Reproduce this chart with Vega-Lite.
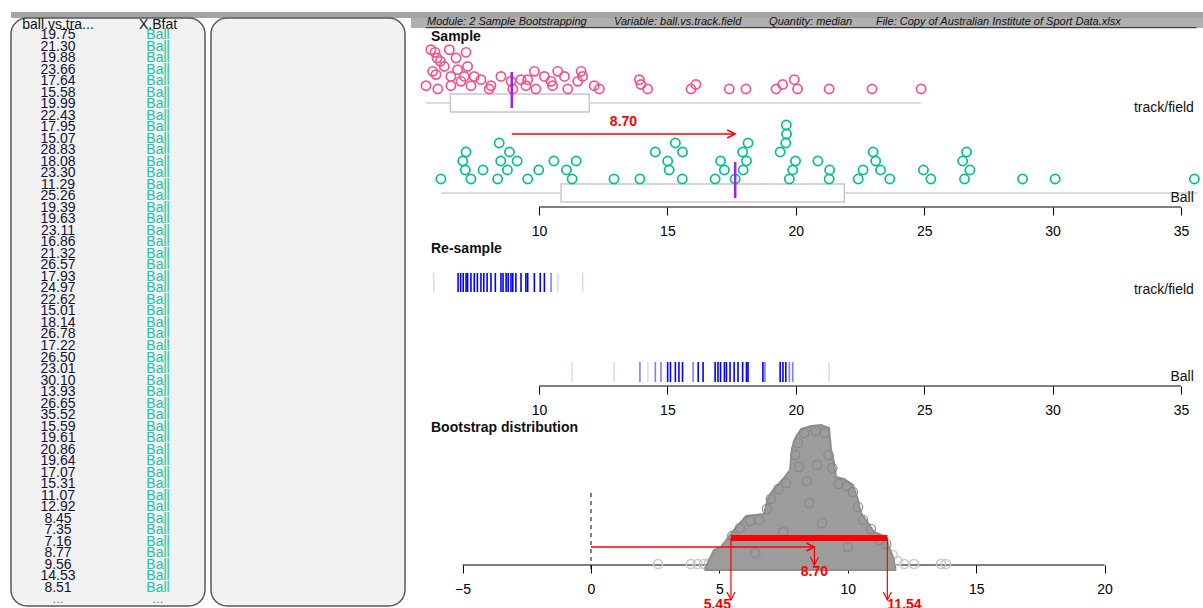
{
 "$schema": "https://vega.github.io/schema/vega-lite/v6.json",
 "padding": {"top": 9, "left": 10, "right": 0, "bottom": 0},
 "background": "white",
 "spacing": 0,
 "bounds": "flush",
 "config": {
  "view": {"stroke": null},
  "font": "Liberation Sans",
  "axis": {"labelFont": "Liberation Sans", "labelFontSize": 14, "labelColor": "black", "tickColor": "black", "grid": false, "domain": false, "tickSize": 8, "tickWidth": 1, "labelPadding": 9, "labelFlush": false, "labelOverlap": false}
 },
 "datasets": {
  "table": [
   {"r":0,"v":19.75,"g":"Ball"},{"r":1,"v":21.30,"g":"Ball"},{"r":2,"v":19.88,"g":"Ball"},{"r":3,"v":23.66,"g":"Ball"},{"r":4,"v":17.64,"g":"Ball"},
   {"r":5,"v":15.58,"g":"Ball"},{"r":6,"v":19.99,"g":"Ball"},{"r":7,"v":22.43,"g":"Ball"},{"r":8,"v":17.95,"g":"Ball"},{"r":9,"v":15.07,"g":"Ball"},
   {"r":10,"v":28.83,"g":"Ball"},{"r":11,"v":18.08,"g":"Ball"},{"r":12,"v":23.30,"g":"Ball"},{"r":13,"v":11.29,"g":"Ball"},{"r":14,"v":25.26,"g":"Ball"},
   {"r":15,"v":19.39,"g":"Ball"},{"r":16,"v":19.63,"g":"Ball"},{"r":17,"v":23.11,"g":"Ball"},{"r":18,"v":16.86,"g":"Ball"},{"r":19,"v":21.32,"g":"Ball"},
   {"r":20,"v":26.57,"g":"Ball"},{"r":21,"v":17.93,"g":"Ball"},{"r":22,"v":24.97,"g":"Ball"},{"r":23,"v":22.62,"g":"Ball"},{"r":24,"v":15.01,"g":"Ball"},
   {"r":25,"v":18.14,"g":"Ball"},{"r":26,"v":26.78,"g":"Ball"},{"r":27,"v":17.22,"g":"Ball"},{"r":28,"v":26.50,"g":"Ball"},{"r":29,"v":23.01,"g":"Ball"},
   {"r":30,"v":30.10,"g":"Ball"},{"r":31,"v":13.93,"g":"Ball"},{"r":32,"v":26.65,"g":"Ball"},{"r":33,"v":35.52,"g":"Ball"},{"r":34,"v":15.59,"g":"Ball"},
   {"r":35,"v":19.61,"g":"Ball"},{"r":36,"v":20.86,"g":"Ball"},{"r":37,"v":19.64,"g":"Ball"},{"r":38,"v":17.07,"g":"Ball"},{"r":39,"v":15.31,"g":"Ball"},
   {"r":40,"v":11.07,"g":"Ball"},{"r":41,"v":12.92,"g":"Ball"},{"r":42,"v":8.45,"g":"Ball"},{"r":43,"v":7.35,"g":"Ball"},{"r":44,"v":7.16,"g":"Ball"},
   {"r":45,"v":8.77,"g":"Ball"},{"r":46,"v":9.56,"g":"Ball"},{"r":47,"v":14.53,"g":"Ball"},{"r":48,"v":8.51,"g":"Ball"}
  ],
  "balldots": [
   {"v":6.18,"lev":0},{"v":7.03,"lev":2},{"v":7.13,"lev":1},{"v":7.16,"lev":3},{"v":7.35,"lev":0},{"v":7.82,"lev":1},{"v":8.45,"lev":4},{"v":8.85,"lev":3},
   {"v":8.51,"lev":2},{"v":9.15,"lev":2},{"v":8.77,"lev":1},{"v":8.39,"lev":0},{"v":9.56,"lev":0},{"v":9.99,"lev":1},{"v":10.58,"lev":2},{"v":11.07,"lev":1},
   {"v":11.45,"lev":2},{"v":11.29,"lev":0},{"v":12.92,"lev":0},{"v":13.93,"lev":0},{"v":15.31,"lev":4},{"v":15.59,"lev":3},{"v":14.53,"lev":3},{"v":15.01,"lev":2},
   {"v":15.07,"lev":1},{"v":15.58,"lev":0},{"v":17.07,"lev":2},{"v":17.22,"lev":1},{"v":16.86,"lev":0},{"v":17.64,"lev":0},{"v":18.14,"lev":4},{"v":17.93,"lev":3},
   {"v":18.08,"lev":2},{"v":17.95,"lev":1},{"v":19.63,"lev":6},{"v":19.64,"lev":5},{"v":19.61,"lev":4},{"v":19.39,"lev":3},{"v":19.99,"lev":2},{"v":19.88,"lev":1},
   {"v":19.75,"lev":0},{"v":20.86,"lev":2},{"v":21.32,"lev":1},{"v":21.30,"lev":0},{"v":23.01,"lev":3},{"v":23.11,"lev":2},{"v":22.62,"lev":1},{"v":23.30,"lev":1},
   {"v":22.43,"lev":0},{"v":23.66,"lev":0},{"v":24.97,"lev":1},{"v":25.26,"lev":0},{"v":26.65,"lev":3},{"v":26.50,"lev":2},{"v":26.78,"lev":1},{"v":26.57,"lev":0},
   {"v":28.83,"lev":0},{"v":30.10,"lev":0},{"v":35.52,"lev":0}
  ],
  "tfdots": [
   {"v":5.79,"lev":4.37},{"v":5.95,"lev":4.07},{"v":6.51,"lev":4.37},{"v":7.16,"lev":4.07},{"v":6.03,"lev":3.44},{"v":6.16,"lev":3.07},{"v":6.77,"lev":3.44},
   {"v":6.31,"lev":2.5},{"v":6.83,"lev":2.15},{"v":7.22,"lev":2.5},{"v":5.86,"lev":1.96},{"v":5.99,"lev":1.6},{"v":6.57,"lev":1.4},{"v":7.09,"lev":1.4},
   {"v":7.48,"lev":1.4},{"v":5.60,"lev":0.37},{"v":6.06,"lev":0},{"v":6.57,"lev":0.37},{"v":6.96,"lev":0.85},{"v":7.35,"lev":0.37},{"v":7.74,"lev":1.04},
   {"v":8.13,"lev":0.37},{"v":8.06,"lev":0},{"v":8.52,"lev":1.4},{"v":8.91,"lev":0.85},{"v":8.98,"lev":0},{"v":9.30,"lev":1.04},{"v":9.56,"lev":1.04},
   {"v":9.49,"lev":0.37},{"v":9.88,"lev":0},{"v":9.82,"lev":1.96},{"v":10.21,"lev":1.4},{"v":10.47,"lev":0.85},{"v":10.53,"lev":0.37},{"v":10.73,"lev":1.96},
   {"v":10.99,"lev":1.4},{"v":11.12,"lev":0},{"v":11.64,"lev":1.96},{"v":11.70,"lev":1.4},{"v":11.51,"lev":0.85},{"v":12.15,"lev":0.37},{"v":12.35,"lev":0},
   {"v":13.91,"lev":1.04},{"v":13.97,"lev":0.5},{"v":14.23,"lev":0},{"v":15.92,"lev":0},{"v":16.11,"lev":0.5},{"v":17.41,"lev":0},{"v":18.06,"lev":0},
   {"v":19.23,"lev":0},{"v":19.49,"lev":0.5},{"v":19.94,"lev":1.04},{"v":20.07,"lev":0},{"v":21.30,"lev":0},{"v":22.97,"lev":0},{"v":24.88,"lev":0}
  ],
  "tfres": [
   {"v":6.85,"draw":"current"},{"v":6.95,"draw":"current"},{"v":7.05,"draw":"current"},{"v":7.16,"draw":"current"},{"v":7.22,"draw":"current"},
   {"v":7.35,"draw":"current"},{"v":7.48,"draw":"current"},{"v":7.6,"draw":"current"},{"v":7.74,"draw":"current"},{"v":7.85,"draw":"current"},
   {"v":7.98,"draw":"current"},{"v":8.13,"draw":"current"},{"v":8.3,"draw":"current"},{"v":8.52,"draw":"current"},{"v":8.6,"draw":"current"},
   {"v":8.72,"draw":"current"},{"v":8.8,"draw":"current"},{"v":8.91,"draw":"current"},{"v":8.98,"draw":"current"},{"v":9.1,"draw":"current"},
   {"v":9.3,"draw":"current"},{"v":9.49,"draw":"current"},{"v":9.56,"draw":"current"},{"v":9.82,"draw":"current"},{"v":10.05,"draw":"current"},
   {"v":10.21,"draw":"current"},{"v":10.47,"draw":"recent"},{"v":10.73,"draw":"earlier"},{"v":5.9,"draw":"earlier"},{"v":11.7,"draw":"earlier"}
  ],
  "ballres": [
   {"v":15.01,"draw":"current"},{"v":15.12,"draw":"current"},{"v":15.31,"draw":"current"},{"v":15.45,"draw":"current"},{"v":15.59,"draw":"current"},
   {"v":16.2,"draw":"current"},{"v":16.39,"draw":"current"},{"v":16.86,"draw":"current"},{"v":16.97,"draw":"current"},{"v":17.07,"draw":"current"},
   {"v":17.22,"draw":"current"},{"v":17.3,"draw":"current"},{"v":17.44,"draw":"current"},{"v":17.6,"draw":"current"},{"v":17.75,"draw":"current"},
   {"v":17.93,"draw":"current"},{"v":18.08,"draw":"current"},{"v":18.14,"draw":"current"},{"v":18.72,"draw":"current"},{"v":19.39,"draw":"current"},
   {"v":19.5,"draw":"current"},{"v":19.61,"draw":"current"},{"v":19.75,"draw":"recent"},
   {"v":13.93,"draw":"recent"},{"v":14.53,"draw":"recent"},{"v":14.75,"draw":"recent"},{"v":16.0,"draw":"recent"},{"v":18.8,"draw":"recent"},{"v":19.88,"draw":"recent"},
   {"v":11.29,"draw":"earlier"},{"v":12.92,"draw":"earlier"},{"v":14.24,"draw":"earlier"},{"v":21.30,"draw":"earlier"}
  ],
  "boot": [
   {"v":4.45,"h":-3},{"v":4.79,"h":15},{"v":5.06,"h":18},{"v":5.57,"h":35},{"v":5.84,"h":43},{"v":6.04,"h":49},{"v":6.74,"h":51},{"v":6.89,"h":67},
   {"v":7.09,"h":75},{"v":7.48,"h":86},{"v":7.75,"h":95},{"v":7.83,"h":117},{"v":7.98,"h":128},{"v":8.18,"h":136},{"v":8.57,"h":139},{"v":8.96,"h":140},
   {"v":9.27,"h":137},{"v":9.35,"h":115},{"v":9.46,"h":103},{"v":9.54,"h":88},{"v":9.85,"h":86},{"v":10.2,"h":80},{"v":10.4,"h":65},{"v":10.51,"h":52},
   {"v":10.79,"h":42},{"v":11.02,"h":33},{"v":11.49,"h":28},{"v":11.6,"h":18},{"v":11.76,"h":8},{"v":11.85,"h":-3}
  ],
  "boottexture": [
   {"v":8.3,"h":132},{"v":8.75,"h":134},{"v":9.1,"h":132},{"v":8.05,"h":122},{"v":7.95,"h":110},{"v":8.1,"h":98},{"v":9.25,"h":110},{"v":9.4,"h":97},
   {"v":9.65,"h":81},{"v":9.95,"h":79},{"v":10.2,"h":73},{"v":7.6,"h":82},{"v":7.3,"h":76},{"v":7.0,"h":66},{"v":6.85,"h":56},{"v":6.55,"h":45},
   {"v":6.2,"h":44},{"v":5.8,"h":37},{"v":5.5,"h":29},{"v":10.4,"h":58},{"v":10.6,"h":45},{"v":10.9,"h":36},{"v":11.25,"h":25},{"v":11.5,"h":21},
   {"v":8.5,"h":62},{"v":9.0,"h":42},{"v":7.5,"h":33},{"v":10.0,"h":18},{"v":6.4,"h":12},{"v":8.8,"h":100},{"v":8.4,"h":84}
  ],
  "boottails": [
   {"v":2.61,"h":1},{"v":3.89,"h":1},{"v":4.15,"h":1},{"v":4.4,"h":1},{"v":4.6,"h":2},{"v":4.8,"h":4},{"v":4.95,"h":9},{"v":5.1,"h":13},
   {"v":11.75,"h":10},{"v":11.95,"h":4},{"v":12.2,"h":1},{"v":12.58,"h":1},{"v":13.63,"h":1},{"v":13.82,"h":1}
  ]
 },
 "vconcat": [
  {
   "width": 1193, "height": 6,
   "view": {"fill": "#a4a4a4", "stroke": null},
   "data": {"values": [{}]},
   "mark": {"type": "text", "text": ""},
   "encoding": {}
  },
  {
   "spacing": 6,
   "bounds": "flush",
   "hconcat": [
    {
     "width": 194, "height": 588,
     "view": {"fill": "#f2f2f2", "stroke": "#5a5a5a", "strokeWidth": 1.5, "cornerRadius": 16},
     "layer": [
      {
       "data": {"values": [{"c": "ball.vs.tra..."}, {"c": "X.Bfat"}]},
       "mark": {"type": "text", "fontSize": 14, "baseline": "middle", "color": "#111111"},
       "encoding": {
        "x": {"field": "c", "type": "nominal", "sort": null, "scale": {"type": "point", "domain": ["ball.vs.tra...", "X.Bfat"], "padding": 0.47}, "axis": null},
        "y": {"datum": -0.87, "type": "quantitative", "scale": {"domain": [49.57, -1.476], "nice": false, "zero": false}, "axis": null},
        "text": {"field": "c"}
       }
      },
      {
       "data": {"name": "table"},
       "mark": {"type": "text", "fontSize": 14, "baseline": "middle", "color": "#121236"},
       "encoding": {
        "x": {"datum": "ball.vs.tra...", "type": "nominal", "scale": {"type": "point", "domain": ["ball.vs.tra...", "X.Bfat"], "padding": 0.47}, "axis": null},
        "y": {"field": "r", "type": "quantitative", "scale": {"domain": [49.57, -1.476], "nice": false, "zero": false}, "axis": null},
        "text": {"field": "v", "type": "quantitative", "format": ".2f"}
       }
      },
      {
       "data": {"name": "table"},
       "mark": {"type": "text", "fontSize": 14, "baseline": "middle", "color": "#22c4a2"},
       "encoding": {
        "x": {"datum": "X.Bfat", "type": "nominal", "scale": {"type": "point", "domain": ["ball.vs.tra...", "X.Bfat"], "padding": 0.47}, "axis": null},
        "y": {"field": "r", "type": "quantitative", "scale": {"domain": [49.57, -1.476], "nice": false, "zero": false}, "axis": null},
        "text": {"field": "g"}
       }
      },
      {
       "data": {"values": [{"c": "ball.vs.tra...", "r": 49}, {"c": "X.Bfat", "r": 49}]},
       "mark": {"type": "text", "fontSize": 13, "baseline": "middle", "color": "#777777", "text": "..."},
       "encoding": {
        "x": {"field": "c", "type": "nominal", "scale": {"type": "point", "domain": ["ball.vs.tra...", "X.Bfat"], "padding": 0.47}, "axis": null},
        "y": {"field": "r", "type": "quantitative", "scale": {"domain": [49.57, -1.476], "nice": false, "zero": false}, "axis": null}
       }
      }
     ]
    },
    {
     "width": 194, "height": 588,
     "view": {"fill": "#f2f2f2", "stroke": "#5a5a5a", "strokeWidth": 1.5, "cornerRadius": 16},
     "data": {"values": [{}]},
     "mark": {"type": "text", "text": ""},
     "encoding": {}
    },
    {
     "spacing": 0,
     "bounds": "flush",
     "vconcat": [
      {
       "width": 793, "height": 10,
       "view": {"fill": "#b0b0b0", "stroke": null},
       "layer": [
        {
         "data": {"values": [{"a": 5.016, "b": 35.896}]},
         "mark": {"type": "rect", "color": "#b0b0b0"},
         "encoding": {
          "x": {"field": "a", "type": "quantitative", "scale": {"domain": [5.016, 35.896], "nice": false, "zero": false}, "axis": null},
          "x2": {"field": "b"},
          "y": {"datum": 0, "type": "quantitative", "scale": {"domain": [0, 10], "nice": false, "zero": false}, "axis": null},
          "y2": {"datum": 10}
         }
        },
        {
         "data": {"values": [
          {"t": "Module: 2 Sample Bootstrapping", "x": 5.64},
          {"t": "Variable: ball.vs.track.field", "x": 12.92},
          {"t": "Quantity: median", "x": 18.96},
          {"t": "File: Copy of Australian Institute of Sport Data.xlsx", "x": 23.12}
         ]},
         "mark": {"type": "text", "align": "left", "baseline": "middle", "fontStyle": "italic", "fontSize": 11, "color": "#111111"},
         "encoding": {
          "x": {"field": "x", "type": "quantitative", "scale": {"domain": [5.016, 35.896], "nice": false, "zero": false}, "axis": null},
          "y": {"datum": 6, "type": "quantitative", "scale": {"domain": [0, 10], "nice": false, "zero": false}, "axis": null},
          "text": {"field": "t"}
         }
        },
        {
         "data": {"values": [{"a": 5.6, "b": 35.6}]},
         "mark": {"type": "rule", "color": "#222222", "strokeWidth": 1},
         "encoding": {
          "x": {"field": "a", "type": "quantitative", "scale": {"domain": [5.016, 35.896], "nice": false, "zero": false}, "axis": null},
          "x2": {"field": "b"},
          "y": {"datum": 0.3, "type": "quantitative", "scale": {"domain": [0, 10], "nice": false, "zero": false}, "axis": null}
         }
        }
       ]
      },
      {
       "width": 793, "height": 89,
       "layer": [
        {
         "data": {"values": [{"lo": 5.6, "hi": 24.88}]},
         "mark": {"type": "rule", "color": "#d0d0d0", "strokeWidth": 1.5},
         "encoding": {
          "x": {"field": "lo", "type": "quantitative", "scale": {"domain": [5.016, 35.896], "nice": false, "zero": false}, "axis": null},
          "x2": {"field": "hi"},
          "y": {"datum": -1.556, "type": "quantitative", "scale": {"domain": [-3.111, 6.778], "nice": false, "zero": false}, "axis": null}
         }
        },
        {
         "data": {"values": [{"q1": 6.55, "q3": 11.96}]},
         "mark": {"type": "rect", "fill": "white", "stroke": "#c8c8c8", "strokeWidth": 1.5},
         "encoding": {
          "x": {"field": "q1", "type": "quantitative", "scale": {"domain": [5.016, 35.896], "nice": false, "zero": false}, "axis": null},
          "x2": {"field": "q3"},
          "y": {"datum": -0.556, "type": "quantitative", "scale": {"domain": [-3.111, 6.778], "nice": false, "zero": false}, "axis": null},
          "y2": {"datum": -2.556}
         }
        },
        {
         "data": {"name": "tfdots"},
         "mark": {"type": "point", "shape": "circle", "filled": false, "color": "#f4528a", "size": 85, "strokeWidth": 1.7, "opacity": 1},
         "encoding": {
          "x": {"field": "v", "type": "quantitative", "scale": {"domain": [5.016, 35.896], "nice": false, "zero": false}, "axis": null},
          "y": {"field": "lev", "type": "quantitative", "scale": {"domain": [-3.111, 6.778], "nice": false, "zero": false}, "axis": null}
         }
        },
        {
         "data": {"values": [{"m": 8.94}]},
         "mark": {"type": "rule", "color": "#a020f0", "strokeWidth": 2.5},
         "encoding": {
          "x": {"field": "m", "type": "quantitative", "scale": {"domain": [5.016, 35.896], "nice": false, "zero": false}, "axis": null},
          "y": {"datum": 1.889, "type": "quantitative", "scale": {"domain": [-3.111, 6.778], "nice": false, "zero": false}, "axis": null},
          "y2": {"datum": -2.111}
         }
        },
        {
         "data": {"values": [{"t": "track/field", "x": 35.5}]},
         "mark": {"type": "text", "align": "right", "baseline": "middle", "fontSize": 14, "color": "#111111"},
         "encoding": {
          "x": {"field": "x", "type": "quantitative", "scale": {"domain": [5.016, 35.896], "nice": false, "zero": false}, "axis": null},
          "y": {"datum": -2.11, "type": "quantitative", "scale": {"domain": [-3.111, 6.778], "nice": false, "zero": false}, "axis": null},
          "text": {"field": "t"}
         }
        },
        {
         "data": {"values": [{"t": "Sample", "x": 5.795}]},
         "mark": {"type": "text", "align": "left", "baseline": "middle", "fontSize": 14, "fontWeight": "bold", "color": "#111111"},
         "encoding": {
          "x": {"field": "x", "type": "quantitative", "scale": {"domain": [5.016, 35.896], "nice": false, "zero": false}, "axis": null},
          "y": {"datum": 5.78, "type": "quantitative", "scale": {"domain": [-3.111, 6.778], "nice": false, "zero": false}, "axis": null},
          "text": {"field": "t"}
         }
        }
       ]
      },
      {
       "width": 793, "height": 90,
       "layer": [
        {
         "data": {"values": [{"a": 10, "b": 35}]},
         "mark": {"type": "rule", "color": "black", "strokeWidth": 1},
         "encoding": {
          "x": {"field": "a", "type": "quantitative", "scale": {"domain": [5.016, 35.896], "nice": false, "zero": false}, "axis": {"values": [10, 15, 20, 25, 30, 35], "title": null}},
          "x2": {"field": "b"},
          "y": {"datum": -3.111, "type": "quantitative", "scale": {"domain": [-3.111, 6.889], "nice": false, "zero": false}, "axis": null}
         }
        },
        {
         "data": {"values": [{"lo": 6.18, "hi": 35.65}]},
         "mark": {"type": "rule", "color": "#d0d0d0", "strokeWidth": 1.5},
         "encoding": {
          "x": {"field": "lo", "type": "quantitative", "scale": {"domain": [5.016, 35.896], "nice": false, "zero": false}, "axis": {"values": [10, 15, 20, 25, 30, 35], "title": null}},
          "x2": {"field": "hi"},
          "y": {"datum": -1.556, "type": "quantitative", "scale": {"domain": [-3.111, 6.889], "nice": false, "zero": false}, "axis": null}
         }
        },
        {
         "data": {"values": [{"q1": 10.86, "q3": 21.89}]},
         "mark": {"type": "rect", "fill": "white", "stroke": "#c8c8c8", "strokeWidth": 1.5},
         "encoding": {
          "x": {"field": "q1", "type": "quantitative", "scale": {"domain": [5.016, 35.896], "nice": false, "zero": false}, "axis": {"values": [10, 15, 20, 25, 30, 35], "title": null}},
          "x2": {"field": "q3"},
          "y": {"datum": -0.556, "type": "quantitative", "scale": {"domain": [-3.111, 6.889], "nice": false, "zero": false}, "axis": null},
          "y2": {"datum": -2.556}
         }
        },
        {
         "data": {"name": "balldots"},
         "mark": {"type": "point", "shape": "circle", "filled": false, "color": "#00bf8a", "size": 85, "strokeWidth": 1.7, "opacity": 1},
         "encoding": {
          "x": {"field": "v", "type": "quantitative", "scale": {"domain": [5.016, 35.896], "nice": false, "zero": false}, "axis": {"values": [10, 15, 20, 25, 30, 35], "title": null}},
          "y": {"field": "lev", "type": "quantitative", "scale": {"domain": [-3.111, 6.889], "nice": false, "zero": false}, "axis": null}
         }
        },
        {
         "data": {"values": [{"m": 17.64}]},
         "mark": {"type": "rule", "color": "#a020f0", "strokeWidth": 2.5},
         "encoding": {
          "x": {"field": "m", "type": "quantitative", "scale": {"domain": [5.016, 35.896], "nice": false, "zero": false}, "axis": {"values": [10, 15, 20, 25, 30, 35], "title": null}},
          "y": {"datum": 1.889, "type": "quantitative", "scale": {"domain": [-3.111, 6.889], "nice": false, "zero": false}, "axis": null},
          "y2": {"datum": -2.111}
         }
        },
        {
         "data": {"values": [{"a": 8.94, "b": 17.64}]},
         "mark": {"type": "rule", "color": "#ff0000", "strokeWidth": 1.5},
         "encoding": {
          "x": {"field": "a", "type": "quantitative", "scale": {"domain": [5.016, 35.896], "nice": false, "zero": false}, "axis": {"values": [10, 15, 20, 25, 30, 35], "title": null}},
          "x2": {"field": "b"},
          "y": {"datum": 5.0, "type": "quantitative", "scale": {"domain": [-3.111, 6.889], "nice": false, "zero": false}, "axis": null}
         }
        },
        {
         "data": {"values": [{"b": 17.64}]},
         "mark": {"type": "point", "shape": "M-1,-0.5L0,0L-1,0.5", "filled": false, "color": "#ff0000", "size": 256, "strokeWidth": 1.5, "opacity": 1},
         "encoding": {
          "x": {"field": "b", "type": "quantitative", "scale": {"domain": [5.016, 35.896], "nice": false, "zero": false}, "axis": {"values": [10, 15, 20, 25, 30, 35], "title": null}},
          "y": {"datum": 5.0, "type": "quantitative", "scale": {"domain": [-3.111, 6.889], "nice": false, "zero": false}, "axis": null}
         }
        },
        {
         "data": {"values": [{"t": "8.70", "x": 13.29}]},
         "mark": {"type": "text", "align": "center", "baseline": "middle", "fontSize": 14, "fontWeight": "bold", "color": "#ff0000"},
         "encoding": {
          "x": {"field": "x", "type": "quantitative", "scale": {"domain": [5.016, 35.896], "nice": false, "zero": false}, "axis": {"values": [10, 15, 20, 25, 30, 35], "title": null}},
          "y": {"datum": 6.33, "type": "quantitative", "scale": {"domain": [-3.111, 6.889], "nice": false, "zero": false}, "axis": null},
          "text": {"field": "t"}
         }
        },
        {
         "data": {"values": [{"t": "Ball", "x": 35.5}]},
         "mark": {"type": "text", "align": "right", "baseline": "middle", "fontSize": 14, "color": "#111111"},
         "encoding": {
          "x": {"field": "x", "type": "quantitative", "scale": {"domain": [5.016, 35.896], "nice": false, "zero": false}, "axis": {"values": [10, 15, 20, 25, 30, 35], "title": null}},
          "y": {"datum": -2.11, "type": "quantitative", "scale": {"domain": [-3.111, 6.889], "nice": false, "zero": false}, "axis": null},
          "text": {"field": "t"}
         }
        }
       ]
      },
      {
       "width": 793, "height": 123,
       "layer": [
        {
         "data": {"values": [{"t": "Re-sample", "x": 5.795}]},
         "mark": {"type": "text", "align": "left", "baseline": "middle", "fontSize": 14, "fontWeight": "bold", "color": "#111111"},
         "encoding": {
          "x": {"field": "x", "type": "quantitative", "scale": {"domain": [5.016, 35.896], "nice": false, "zero": false}, "axis": null},
          "y": {"datum": 81, "type": "quantitative", "scale": {"domain": [0, 123], "nice": false, "zero": false}, "axis": null},
          "text": {"field": "t"}
         }
        },
        {
         "data": {"name": "tfres"},
         "transform": [{"filter": "datum.draw == 'earlier'"}],
         "mark": {"type": "rule", "color": "#0000ff", "strokeWidth": 1.6, "opacity": 0.15},
         "encoding": {
          "x": {"field": "v", "type": "quantitative", "scale": {"domain": [5.016, 35.896], "nice": false, "zero": false}, "axis": null},
          "y": {"datum": 57, "type": "quantitative", "scale": {"domain": [0, 123], "nice": false, "zero": false}, "axis": null},
          "y2": {"datum": 38}
         }
        },
        {
         "data": {"name": "tfres"},
         "transform": [{"filter": "datum.draw == 'recent'"}],
         "mark": {"type": "rule", "color": "#0000ff", "strokeWidth": 1.6, "opacity": 0.5},
         "encoding": {
          "x": {"field": "v", "type": "quantitative", "scale": {"domain": [5.016, 35.896], "nice": false, "zero": false}, "axis": null},
          "y": {"datum": 57, "type": "quantitative", "scale": {"domain": [0, 123], "nice": false, "zero": false}, "axis": null},
          "y2": {"datum": 38}
         }
        },
        {
         "data": {"name": "tfres"},
         "transform": [{"filter": "datum.draw == 'current'"}],
         "mark": {"type": "rule", "color": "#0000ff", "strokeWidth": 1.6, "opacity": 1},
         "encoding": {
          "x": {"field": "v", "type": "quantitative", "scale": {"domain": [5.016, 35.896], "nice": false, "zero": false}, "axis": null},
          "y": {"datum": 57, "type": "quantitative", "scale": {"domain": [0, 123], "nice": false, "zero": false}, "axis": null},
          "y2": {"datum": 38}
         }
        },
        {
         "data": {"values": [{"t": "track/field", "x": 35.5}]},
         "mark": {"type": "text", "align": "right", "baseline": "middle", "fontSize": 14, "color": "#111111"},
         "encoding": {
          "x": {"field": "x", "type": "quantitative", "scale": {"domain": [5.016, 35.896], "nice": false, "zero": false}, "axis": null},
          "y": {"datum": 40, "type": "quantitative", "scale": {"domain": [0, 123], "nice": false, "zero": false}, "axis": null},
          "text": {"field": "t"}
         }
        }
       ]
      },
      {
       "width": 793, "height": 56,
       "layer": [
        {
         "data": {"values": [{"a": 10, "b": 35}]},
         "mark": {"type": "rule", "color": "black", "strokeWidth": 1},
         "encoding": {
          "x": {"field": "a", "type": "quantitative", "scale": {"domain": [5.016, 35.896], "nice": false, "zero": false}, "axis": {"values": [10, 15, 20, 25, 30, 35], "title": null}},
          "x2": {"field": "b"},
          "y": {"datum": 0, "type": "quantitative", "scale": {"domain": [0, 56], "nice": false, "zero": false}, "axis": null}
         }
        },
        {
         "data": {"name": "ballres"},
         "transform": [{"filter": "datum.draw == 'earlier'"}],
         "mark": {"type": "rule", "color": "#0000ff", "strokeWidth": 1.6, "opacity": 0.15},
         "encoding": {
          "x": {"field": "v", "type": "quantitative", "scale": {"domain": [5.016, 35.896], "nice": false, "zero": false}, "axis": {"values": [10, 15, 20, 25, 30, 35], "title": null}},
          "y": {"datum": 24, "type": "quantitative", "scale": {"domain": [0, 56], "nice": false, "zero": false}, "axis": null},
          "y2": {"datum": 4}
         }
        },
        {
         "data": {"name": "ballres"},
         "transform": [{"filter": "datum.draw == 'recent'"}],
         "mark": {"type": "rule", "color": "#0000ff", "strokeWidth": 1.6, "opacity": 0.5},
         "encoding": {
          "x": {"field": "v", "type": "quantitative", "scale": {"domain": [5.016, 35.896], "nice": false, "zero": false}, "axis": {"values": [10, 15, 20, 25, 30, 35], "title": null}},
          "y": {"datum": 24, "type": "quantitative", "scale": {"domain": [0, 56], "nice": false, "zero": false}, "axis": null},
          "y2": {"datum": 4}
         }
        },
        {
         "data": {"name": "ballres"},
         "transform": [{"filter": "datum.draw == 'current'"}],
         "mark": {"type": "rule", "color": "#0000ff", "strokeWidth": 1.6, "opacity": 1},
         "encoding": {
          "x": {"field": "v", "type": "quantitative", "scale": {"domain": [5.016, 35.896], "nice": false, "zero": false}, "axis": {"values": [10, 15, 20, 25, 30, 35], "title": null}},
          "y": {"datum": 24, "type": "quantitative", "scale": {"domain": [0, 56], "nice": false, "zero": false}, "axis": null},
          "y2": {"datum": 4}
         }
        },
        {
         "data": {"values": [{"t": "Ball", "x": 35.5}]},
         "mark": {"type": "text", "align": "right", "baseline": "middle", "fontSize": 14, "color": "#111111"},
         "encoding": {
          "x": {"field": "x", "type": "quantitative", "scale": {"domain": [5.016, 35.896], "nice": false, "zero": false}, "axis": {"values": [10, 15, 20, 25, 30, 35], "title": null}},
          "y": {"datum": 9, "type": "quantitative", "scale": {"domain": [0, 56], "nice": false, "zero": false}, "axis": null},
          "text": {"field": "t"}
         }
        }
       ]
      },
      {
       "width": 793, "height": 179,
       "layer": [
        {
         "data": {"values": [{"a": -5, "b": 20}]},
         "mark": {"type": "rule", "color": "black", "strokeWidth": 1},
         "encoding": {
          "x": {"field": "a", "type": "quantitative", "scale": {"domain": [-7.009, 23.871], "nice": false, "zero": false}, "axis": {"values": [-5, 0, 5, 10, 15, 20], "title": null}},
          "x2": {"field": "b"},
          "y": {"datum": 0, "type": "quantitative", "scale": {"domain": [0, 179], "nice": false, "zero": false}, "axis": null}
         }
        },
        {
         "data": {"values": [{"t": "Bootstrap distribution", "x": -6.23}]},
         "mark": {"type": "text", "align": "left", "baseline": "middle", "fontSize": 14, "fontWeight": "bold", "color": "#111111"},
         "encoding": {
          "x": {"field": "x", "type": "quantitative", "scale": {"domain": [-7.009, 23.871], "nice": false, "zero": false}, "axis": {"values": [-5, 0, 5, 10, 15, 20], "title": null}},
          "y": {"datum": 137, "type": "quantitative", "scale": {"domain": [0, 179], "nice": false, "zero": false}, "axis": null},
          "text": {"field": "t"}
         }
        },
        {
         "data": {"name": "boottails"},
         "mark": {"type": "point", "shape": "circle", "filled": false, "color": "#c8c8c8", "size": 85, "strokeWidth": 1.5, "opacity": 1},
         "encoding": {
          "x": {"field": "v", "type": "quantitative", "scale": {"domain": [-7.009, 23.871], "nice": false, "zero": false}, "axis": {"values": [-5, 0, 5, 10, 15, 20], "title": null}},
          "y": {"field": "h", "type": "quantitative", "scale": {"domain": [0, 179], "nice": false, "zero": false}, "axis": null}
         }
        },
        {
         "data": {"name": "boot"},
         "mark": {"type": "area", "color": "#9c9c9c", "stroke": "#8e8e8e", "strokeWidth": 2, "opacity": 1},
         "encoding": {
          "x": {"field": "v", "type": "quantitative", "scale": {"domain": [-7.009, 23.871], "nice": false, "zero": false}, "axis": {"values": [-5, 0, 5, 10, 15, 20], "title": null}},
          "y": {"field": "h", "type": "quantitative", "scale": {"domain": [0, 179], "nice": false, "zero": false}, "axis": null},
          "y2": {"datum": -5}
         }
        },
        {
         "data": {"name": "boottexture"},
         "mark": {"type": "point", "shape": "circle", "filled": false, "color": "#878787", "size": 85, "strokeWidth": 1.2, "opacity": 0.9},
         "encoding": {
          "x": {"field": "v", "type": "quantitative", "scale": {"domain": [-7.009, 23.871], "nice": false, "zero": false}, "axis": {"values": [-5, 0, 5, 10, 15, 20], "title": null}},
          "y": {"field": "h", "type": "quantitative", "scale": {"domain": [0, 179], "nice": false, "zero": false}, "axis": null}
         }
        },
        {
         "data": {"values": [{"x": 0}]},
         "mark": {"type": "rule", "color": "black", "strokeWidth": 1, "strokeDash": [4, 4]},
         "encoding": {
          "x": {"field": "x", "type": "quantitative", "scale": {"domain": [-7.009, 23.871], "nice": false, "zero": false}, "axis": {"values": [-5, 0, 5, 10, 15, 20], "title": null}},
          "y": {"datum": 72, "type": "quantitative", "scale": {"domain": [0, 179], "nice": false, "zero": false}, "axis": null},
          "y2": {"datum": -8}
         }
        },
        {
         "data": {"values": [{"lo": 5.45, "hi": 11.54}]},
         "mark": {"type": "rule", "color": "#ff0000", "strokeWidth": 6},
         "encoding": {
          "x": {"field": "lo", "type": "quantitative", "scale": {"domain": [-7.009, 23.871], "nice": false, "zero": false}, "axis": {"values": [-5, 0, 5, 10, 15, 20], "title": null}},
          "x2": {"field": "hi"},
          "y": {"datum": 27, "type": "quantitative", "scale": {"domain": [0, 179], "nice": false, "zero": false}, "axis": null}
         }
        },
        {
         "data": {"values": [{"a": 0, "b": 8.70}]},
         "mark": {"type": "rule", "color": "#ff0000", "strokeWidth": 1.5},
         "encoding": {
          "x": {"field": "a", "type": "quantitative", "scale": {"domain": [-7.009, 23.871], "nice": false, "zero": false}, "axis": {"values": [-5, 0, 5, 10, 15, 20], "title": null}},
          "x2": {"field": "b"},
          "y": {"datum": 18, "type": "quantitative", "scale": {"domain": [0, 179], "nice": false, "zero": false}, "axis": null}
         }
        },
        {
         "data": {"values": [{"b": 8.70}]},
         "mark": {"type": "point", "shape": "M-1,-0.5L0,0L-1,0.5", "filled": false, "color": "#ff0000", "size": 256, "strokeWidth": 1.5, "opacity": 1},
         "encoding": {
          "x": {"field": "b", "type": "quantitative", "scale": {"domain": [-7.009, 23.871], "nice": false, "zero": false}, "axis": {"values": [-5, 0, 5, 10, 15, 20], "title": null}},
          "y": {"datum": 18, "type": "quantitative", "scale": {"domain": [0, 179], "nice": false, "zero": false}, "axis": null}
         }
        },
        {
         "data": {"values": [{"x": 8.70, "top": 18, "bot": 0}, {"x": 5.45, "top": 27, "bot": -35}, {"x": 11.54, "top": 27, "bot": -35}]},
         "mark": {"type": "rule", "color": "#ff0000", "strokeWidth": 1.2},
         "encoding": {
          "x": {"field": "x", "type": "quantitative", "scale": {"domain": [-7.009, 23.871], "nice": false, "zero": false}, "axis": {"values": [-5, 0, 5, 10, 15, 20], "title": null}},
          "y": {"field": "top", "type": "quantitative", "scale": {"domain": [0, 179], "nice": false, "zero": false}, "axis": null},
          "y2": {"field": "bot"}
         }
        },
        {
         "data": {"values": [{"x": 8.70, "bot": 0}, {"x": 5.45, "bot": -35}, {"x": 11.54, "bot": -35}]},
         "mark": {"type": "point", "shape": "M-0.5,-1L0,0L0.5,-1", "filled": false, "color": "#ff0000", "size": 256, "strokeWidth": 1.2, "opacity": 1},
         "encoding": {
          "x": {"field": "x", "type": "quantitative", "scale": {"domain": [-7.009, 23.871], "nice": false, "zero": false}, "axis": {"values": [-5, 0, 5, 10, 15, 20], "title": null}},
          "y": {"field": "bot", "type": "quantitative", "scale": {"domain": [0, 179], "nice": false, "zero": false}, "axis": null}
         }
        },
        {
         "data": {"values": [{"t": "8.70", "x": 8.70}]},
         "mark": {"type": "text", "align": "center", "baseline": "middle", "fontSize": 14, "fontWeight": "bold", "color": "#ff0000"},
         "encoding": {
          "x": {"field": "x", "type": "quantitative", "scale": {"domain": [-7.009, 23.871], "nice": false, "zero": false}, "axis": {"values": [-5, 0, 5, 10, 15, 20], "title": null}},
          "y": {"datum": -7, "type": "quantitative", "scale": {"domain": [0, 179], "nice": false, "zero": false}, "axis": null},
          "text": {"field": "t"}
         }
        },
        {
         "data": {"values": [{"t": "5.45", "x": 5.45}]},
         "mark": {"type": "text", "align": "right", "baseline": "middle", "fontSize": 14, "fontWeight": "bold", "color": "#ff0000"},
         "encoding": {
          "x": {"field": "x", "type": "quantitative", "scale": {"domain": [-7.009, 23.871], "nice": false, "zero": false}, "axis": {"values": [-5, 0, 5, 10, 15, 20], "title": null}},
          "y": {"datum": -40, "type": "quantitative", "scale": {"domain": [0, 179], "nice": false, "zero": false}, "axis": null},
          "text": {"field": "t"}
         }
        },
        {
         "data": {"values": [{"t": "11.54", "x": 11.54}]},
         "mark": {"type": "text", "align": "left", "baseline": "middle", "fontSize": 14, "fontWeight": "bold", "color": "#ff0000"},
         "encoding": {
          "x": {"field": "x", "type": "quantitative", "scale": {"domain": [-7.009, 23.871], "nice": false, "zero": false}, "axis": {"values": [-5, 0, 5, 10, 15, 20], "title": null}},
          "y": {"datum": -40, "type": "quantitative", "scale": {"domain": [0, 179], "nice": false, "zero": false}, "axis": null},
          "text": {"field": "t"}
         }
        }
       ]
      }
     ]
    }
   ]
  }
 ]
}
